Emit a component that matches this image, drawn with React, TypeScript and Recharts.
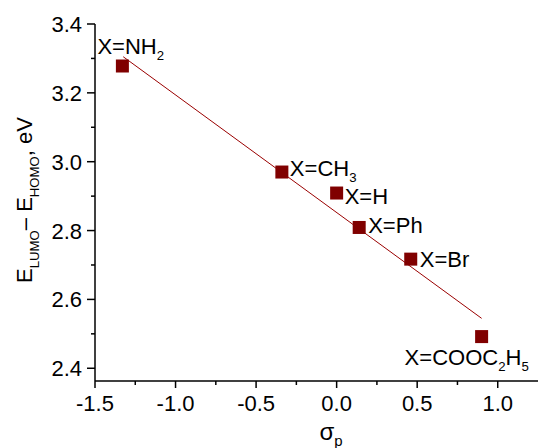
import React from 'react';
import { ScatterChart, Scatter, XAxis, YAxis } from 'recharts';

// Hammett sigma_p vs HOMO-LUMO gap
const sigmaP = [-1.33, -0.34, 0.0, 0.14, 0.46, 0.9];
const gapEV = [3.278, 2.97, 2.909, 2.809, 2.717, 2.492];
// label pieces: even index = normal text, odd index = subscript
const substituents = [
  ['X=NH', '2'],
  ['X=CH', '3'],
  ['X=H'],
  ['X=Ph'],
  ['X=Br'],
  ['X=COOC', '2', 'H', '5'],
];
const fitX = [-1.325, 0.9];
const fitY = [3.305, 2.545];
const xTicks = [-1.5, -1.25, -1, -0.75, -0.5, -0.25, 0, 0.25, 0.5, 0.75, 1];
const yTicks = [2.4, 2.5, 2.6, 2.7, 2.8, 2.9, 3.0, 3.1, 3.2, 3.3, 3.4];

const labelOffsets = [[-25, -12], [8, 4], [8, 11], [9, 6], [9, 8], [-77, 28]];

const FONT = "Arial, 'Liberation Sans', sans-serif";
const RED = '#800000';

const points = sigmaP.map((x, i) => ({ x, y: gapEV[i], parts: substituents[i], idx: i }));
const fitLine = fitX.map((x, i) => ({ x, y: fitY[i] }));

const SubText = ({ parts, size, sub }: { parts: string[]; size: number; sub: number }) => (
  <>
    {parts.map((p, i) =>
      i % 2 === 1 ? (
        <tspan key={i} fontSize={size * 0.6} dy={sub}>{p}</tspan>
      ) : (
        <tspan key={i} dy={i === 0 ? 0 : -sub}>{p}</tspan>
      )
    )}
  </>
);

const PointShape = (props: any) => {
  const { cx, cy, payload } = props;
  const [dx, dy] = labelOffsets[payload.idx];
  return (
    <g>
      <rect x={cx - 6.5} y={cy - 6.5} width={13} height={13} fill={RED} />
      <text x={cx + dx} y={cy + dy} fontSize={22} fontFamily={FONT} fill="#000">
        <SubText parts={payload.parts} size={22} sub={6} />
      </text>
    </g>
  );
};

const XTick = (props: any) => {
  const { x, y, payload } = props;
  const v = payload.value;
  const major = Math.abs(v * 2 - Math.round(v * 2)) < 1e-6;
  return (
    <g>
      <line x1={x} x2={x} y1={y} y2={y + (major ? 7 : 4)} stroke="#000" strokeWidth={1.5} />
      {major && (
        <text x={x} y={y + 30} textAnchor="middle" fontSize={22} fontFamily={FONT} fill="#000">
          {v.toFixed(1)}
        </text>
      )}
    </g>
  );
};

const YTick = (props: any) => {
  const { x, y, payload } = props;
  const v = payload.value;
  const major = Math.round(v * 10) % 2 === 0;
  return (
    <g>
      <line x1={x} x2={x - (major ? 8 : 4)} y1={y} y2={y} stroke="#000" strokeWidth={1.5} />
      {major && (
        <text x={x - 13} y={y + 8} textAnchor="end" fontSize={22} fontFamily={FONT} fill="#000">
          {v.toFixed(1)}
        </text>
      )}
    </g>
  );
};

const XTitle = () => (
  <text x={331} y={440} textAnchor="middle" fontSize={24} fontFamily={FONT} fill="#000">
    σ<tspan fontSize={15} dy={6}>p</tspan>
  </text>
);

const YTitle = () => (
  <text
    x={32}
    y={200}
    textAnchor="middle"
    fontSize={22}
    fontFamily={FONT}
    fill="#000"
    transform="rotate(-90 32 200)"
  >
    <SubText parts={['E', 'LUMO', '– E', 'HOMO', ', eV']} size={22} sub={7} />
  </text>
);

export default function App() {
  return (
    <div style={{ width: 539, height: 448, background: '#fff' }}>
      <style>{'body{margin:0}'}</style>
      <ScatterChart width={539} height={448} margin={{ top: 24, right: 1, bottom: 0, left: 0 }}>
        <XAxis
          type="number"
          dataKey="x"
          domain={[-1.5, 1.25]}
          ticks={xTicks}
          tick={<XTick />}
          tickLine={false}
          tickSize={0}
          tickMargin={0}
          axisLine={{ stroke: '#000', strokeWidth: 1.5 }}
          height={67}
          interval={0}
          allowDataOverflow
          label={<XTitle />}
        />
        <YAxis
          type="number"
          dataKey="y"
          domain={[2.363, 3.4]}
          ticks={yTicks}
          tick={<YTick />}
          tickLine={false}
          tickSize={0}
          tickMargin={0}
          axisLine={{ stroke: '#000', strokeWidth: 1.5 }}
          width={95}
          interval={0}
          allowDataOverflow
          label={<YTitle />}
        />
        <Scatter
          data={fitLine}
          line={{ stroke: '#9a0000', strokeWidth: 1 }}
          shape={() => <g />}
          isAnimationActive={false}
        />
        <Scatter data={points} shape={<PointShape />} isAnimationActive={false} />
      </ScatterChart>
    </div>
  );
}
